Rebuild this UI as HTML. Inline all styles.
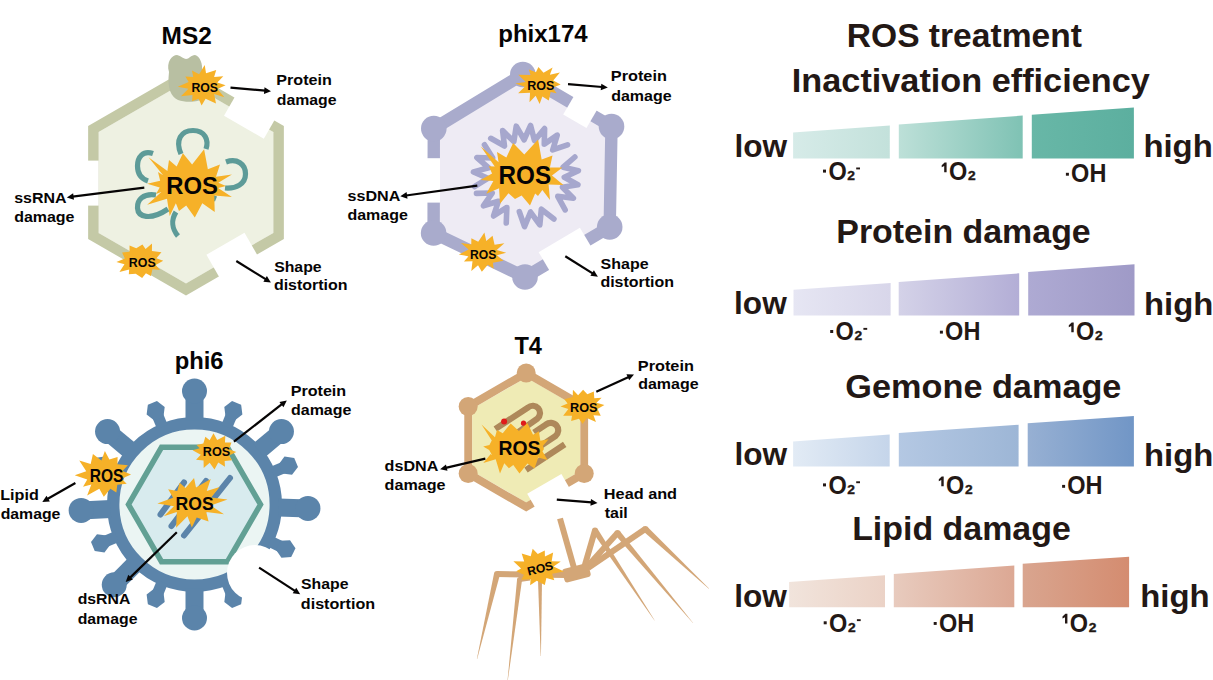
<!DOCTYPE html>
<html><head><meta charset="utf-8"><style>
html,body{margin:0;padding:0;background:#fff;width:1213px;height:680px;overflow:hidden}
svg{display:block}
text{font-family:"Liberation Sans",sans-serif;font-weight:bold}
</style></head><body>
<svg width="1213" height="680" viewBox="0 0 1213 680">
<defs><linearGradient id="g1" x1="0" y1="0" x2="1" y2="0"><stop offset="0" stop-color="#d6ebe8"/><stop offset="1" stop-color="#c3e1db"/></linearGradient>
<linearGradient id="g2" x1="0" y1="0" x2="1" y2="0"><stop offset="0" stop-color="#bde0d8"/><stop offset="1" stop-color="#7fc2b4"/></linearGradient>
<linearGradient id="g3" x1="0" y1="0" x2="1" y2="0"><stop offset="0" stop-color="#68b7a7"/><stop offset="1" stop-color="#5caf9f"/></linearGradient>
<linearGradient id="g4" x1="0" y1="0" x2="1" y2="0"><stop offset="0" stop-color="#e6e6f3"/><stop offset="1" stop-color="#d8d6ea"/></linearGradient>
<linearGradient id="g5" x1="0" y1="0" x2="1" y2="0"><stop offset="0" stop-color="#d4d2e8"/><stop offset="1" stop-color="#b3aed6"/></linearGradient>
<linearGradient id="g6" x1="0" y1="0" x2="1" y2="0"><stop offset="0" stop-color="#aeaad3"/><stop offset="1" stop-color="#9f9ac7"/></linearGradient>
<linearGradient id="g7" x1="0" y1="0" x2="1" y2="0"><stop offset="0" stop-color="#e2ebf5"/><stop offset="1" stop-color="#c5d5ea"/></linearGradient>
<linearGradient id="g8" x1="0" y1="0" x2="1" y2="0"><stop offset="0" stop-color="#b4c8e3"/><stop offset="1" stop-color="#9db6d6"/></linearGradient>
<linearGradient id="g9" x1="0" y1="0" x2="1" y2="0"><stop offset="0" stop-color="#97b0d3"/><stop offset="1" stop-color="#7196c6"/></linearGradient>
<linearGradient id="g10" x1="0" y1="0" x2="1" y2="0"><stop offset="0" stop-color="#f1e4dc"/><stop offset="1" stop-color="#ebd2c6"/></linearGradient>
<linearGradient id="g11" x1="0" y1="0" x2="1" y2="0"><stop offset="0" stop-color="#e8cbbe"/><stop offset="1" stop-color="#dca894"/></linearGradient>
<linearGradient id="g12" x1="0" y1="0" x2="1" y2="0"><stop offset="0" stop-color="#d9a58f"/><stop offset="1" stop-color="#d48c70"/></linearGradient></defs>
<text transform="translate(846.78,46.9) scale(1,1)" font-size="33.6" fill="#231815">ROS treatment</text>
<text transform="translate(791.85,91.7) scale(1.02,1)" font-size="33.6" fill="#231815">Inactivation efficiency</text>
<text transform="translate(836.26,242.8) scale(1.01,1)" font-size="33.6" fill="#231815">Protein damage</text>
<text transform="translate(845.37,397.9) scale(1.02,1)" font-size="33.6" fill="#231815">Gemone damage</text>
<text transform="translate(852.15,540.4) scale(1.01,1)" font-size="33.6" fill="#231815">Lipid damage</text>
<text transform="translate(734.39,156.9)" font-size="31.6" fill="#231815">low</text>
<text transform="translate(1143.4,156.9) scale(1.04,1)" font-size="31.6" fill="#231815">high</text>
<polygon points="793.1,132.6 889.8,125.6 889.8,158.4 793.1,158.4" fill="url(#g1)"/>
<polygon points="898.8,124.6 1022.7,115.6 1022.7,158.4 898.8,158.4" fill="url(#g2)"/>
<polygon points="1031.8,114.8 1133.9,107.4 1133.9,158.4 1031.8,158.4" fill="url(#g3)"/>
<rect x="823" y="169.6" width="3" height="3" fill="#231815"/><text transform="translate(828.41,179.8) scale(0.94,1)" font-size="25" fill="#231815">O</text><text stroke="#231815" stroke-width="0.35" transform="translate(847.33,179.8) scale(1.14,1)" font-size="12.1" fill="#231815">2</text><rect x="856.2" y="167.5" width="3.8" height="1.9" fill="#231815"/>
<path d="M946.6,162.4 L946.6,172.3 L944.2,172.3 L944.2,165.9 L941.7,167.3 L941.7,165.2 L944.6,162.4 Z" fill="#231815"/><text transform="translate(949.01,180.2) scale(0.94,1)" font-size="25" fill="#231815">O</text><text stroke="#231815" stroke-width="0.35" transform="translate(967.93,180.2) scale(1.14,1)" font-size="12.1" fill="#231815">2</text>
<rect x="1065.9" y="172.8" width="3" height="2.9" fill="#231815"/><text transform="translate(1071.11,182.3) scale(0.94,1)" font-size="25" fill="#231815">OH</text>
<text transform="translate(734.09,314.2)" font-size="31.6" fill="#231815">low</text>
<text transform="translate(1144,315.3) scale(1.04,1)" font-size="31.6" fill="#231815">high</text>
<polygon points="793.5,289.7 890.6,283.1 890.6,315.5 793.5,315.5" fill="url(#g4)"/>
<polygon points="898.7,282.1 1019.2,273.3 1019.2,315.5 898.7,315.5" fill="url(#g5)"/>
<polygon points="1028.2,272 1134.5,264.3 1134.5,315.5 1028.2,315.5" fill="url(#g6)"/>
<rect x="830.2" y="330" width="3" height="3" fill="#231815"/><text transform="translate(835.61,340.2) scale(0.94,1)" font-size="25" fill="#231815">O</text><text stroke="#231815" stroke-width="0.35" transform="translate(854.53,340.2) scale(1.14,1)" font-size="12.1" fill="#231815">2</text><rect x="863.4" y="327.9" width="3.8" height="1.9" fill="#231815"/>
<rect x="939.9" y="330.7" width="3" height="2.9" fill="#231815"/><text transform="translate(945.11,340.2) scale(0.94,1)" font-size="25" fill="#231815">OH</text>
<path d="M1073.7,322.4 L1073.7,332.3 L1071.3,332.3 L1071.3,325.9 L1068.8,327.3 L1068.8,325.2 L1071.7,322.4 Z" fill="#231815"/><text transform="translate(1076.11,340.2) scale(0.94,1)" font-size="25" fill="#231815">O</text><text stroke="#231815" stroke-width="0.35" transform="translate(1095.03,340.2) scale(1.14,1)" font-size="12.1" fill="#231815">2</text>
<text transform="translate(734.39,465.3)" font-size="31.6" fill="#231815">low</text>
<text transform="translate(1144,466.4) scale(1.04,1)" font-size="31.6" fill="#231815">high</text>
<polygon points="793.1,441.4 889.7,434.4 889.7,466.5 793.1,466.5" fill="url(#g7)"/>
<polygon points="898.8,432.9 1018.6,424.7 1018.6,466.5 898.8,466.5" fill="url(#g8)"/>
<polygon points="1027.7,423.3 1133.9,415.9 1133.9,466.5 1027.7,466.5" fill="url(#g9)"/>
<rect x="823" y="483.4" width="3" height="3" fill="#231815"/><text transform="translate(828.41,493.6) scale(0.94,1)" font-size="25" fill="#231815">O</text><text stroke="#231815" stroke-width="0.35" transform="translate(847.33,493.6) scale(1.14,1)" font-size="12.1" fill="#231815">2</text><rect x="856.2" y="481.3" width="3.8" height="1.9" fill="#231815"/>
<path d="M943.7,476.4 L943.7,486.3 L941.3,486.3 L941.3,479.9 L938.8,481.3 L938.8,479.2 L941.7,476.4 Z" fill="#231815"/><text transform="translate(946.11,494.2) scale(0.94,1)" font-size="25" fill="#231815">O</text><text stroke="#231815" stroke-width="0.35" transform="translate(965.03,494.2) scale(1.14,1)" font-size="12.1" fill="#231815">2</text>
<rect x="1062.1" y="484.9" width="3" height="2.9" fill="#231815"/><text transform="translate(1067.31,494.4) scale(0.94,1)" font-size="25" fill="#231815">OH</text>
<text transform="translate(734.19,606.6)" font-size="31.6" fill="#231815">low</text>
<text transform="translate(1140.2,607.4) scale(1.04,1)" font-size="31.6" fill="#231815">high</text>
<polygon points="789.1,582 885,575.3 885,607.3 789.1,607.3" fill="url(#g10)"/>
<polygon points="893.8,574 1014.3,565.6 1014.3,607.3 893.8,607.3" fill="url(#g11)"/>
<polygon points="1022.7,563.7 1129.1,556.7 1129.1,607.3 1022.7,607.3" fill="url(#g12)"/>
<rect x="823.7" y="621.3" width="3" height="3" fill="#231815"/><text transform="translate(829.11,631.5) scale(0.94,1)" font-size="25" fill="#231815">O</text><text stroke="#231815" stroke-width="0.35" transform="translate(848.03,631.5) scale(1.14,1)" font-size="12.1" fill="#231815">2</text><rect x="856.9" y="619.2" width="3.8" height="1.9" fill="#231815"/>
<rect x="933.7" y="622" width="3" height="2.9" fill="#231815"/><text transform="translate(938.91,631.5) scale(0.94,1)" font-size="25" fill="#231815">OH</text>
<path d="M1067.4,613.7 L1067.4,623.6 L1065,623.6 L1065,617.2 L1062.5,618.6 L1062.5,616.5 L1065.4,613.7 Z" fill="#231815"/><text transform="translate(1069.81,631.5) scale(0.94,1)" font-size="25" fill="#231815">O</text><text stroke="#231815" stroke-width="0.35" transform="translate(1088.73,631.5) scale(1.14,1)" font-size="12.1" fill="#231815">2</text>
<text transform="translate(161.59,43.9)" font-size="24.4" fill="#060404">MS2</text>
<polygon points="186,81.62 273.36,132.06 273.36,232.94 186,283.38 98.64,232.94 98.64,132.06" fill="#eef1e2"/>
<polygon points="186,75.56 278.61,129.03 278.61,235.97 186,289.44 93.39,235.97 93.39,129.03" fill="none" stroke="#c4c9a6" stroke-width="10.5"/>
<rect x="86" y="160.6" width="12.6" height="45" fill="#fff"/>
<polygon points="237.5,92.3 277.33,115.3 263.83,138.69 224,115.69" fill="#fff"/>
<polygon points="260.01,259.7 221.91,281.7 206.41,254.85 244.51,232.85" fill="#fff"/>
<path d="M169,72 C166,62 172,55 177,55 C181,56 184,59 186,59 C189,59 191,55 195,55 C200,56 203,64 202,72 L204,98 C200,102 186,103 178,100 C171,97 167,88 169,72 Z" fill="#b8bfa2"/>
<polygon points="225.59,85.19 217.48,89.1 224.4,97.17 214.14,94.05 215.99,103.47 205.6,98.77 201.61,105.61 198.58,98.85 192.08,101.34 192.57,94.9 180.93,96.19 188.42,88.81 177.79,86.87 188.69,81.96 185.31,76.6 193.22,77.11 192,70.56 199.14,74.31 204.7,64.97 206.03,73.15 216.22,69.91 214.12,77.05 223.3,76.16 217.32,82.48" fill="#f6b128"/>
<text transform="translate(191.38,91.7) scale(0.94,1)" font-size="13.09" fill="#060404">ROS</text>
<g fill="none" stroke="#5d9b98" stroke-width="5.2">
<path d="M181,154 C175,140 181,130.5 193,130.5 C205,130.5 209,140 206,149"/>
<path d="M153,153.5 C143,150 137.5,157 137.5,166 C137.5,175 142,179 148,181"/>
<path d="M226,162 C237,158 245.5,164 245.5,174 C245.5,184 236,189 225,188"/>
<path d="M156,195 C143,193 137,200 137.5,208 C138,217 150,221 168,209"/>
<path d="M176,212 C171,220 172,229 178,236"/>
<path d="M209,196 L216,199"/>
</g>
<polygon points="147.2,183.7 160.17,180.64 158,172 163.1,175.18 148.5,157.2 167.39,171.04 169,160 176.65,166.38 182.9,153.2 192.1,164.61 204.1,149.3 207.85,169.23 220,164.5 216.02,176.77 231.9,174.4 218.33,182.8 226,186 218.17,188.04 231.9,196.9 214.28,195.56 214.7,212.1 202.31,203.3 194.8,217.4 186.2,205.41 179,211 175.87,203.36 169.7,216.1 167,198.65 147.2,204.8 161.33,192.11 156,194 159.7,187.4" fill="#f6b128"/>
<text transform="translate(166.33,194) scale(0.97,1)" font-size="24.6" fill="#060404">ROS</text>
<polygon points="163.23,260.64 155.68,265.07 160.06,269.88 152.47,269.33 150.89,275.95 145.94,273.16 142.17,277.95 135.72,273.66 128.81,274.37 129.17,269.51 119.42,272.1 124.48,264.21 116.38,261.89 124.86,258.53 122.13,252.43 129.54,251.83 129.54,245.38 136.26,248.15 142.43,244.43 145.55,248.9 152.05,243.53 151.92,250.97 161.44,252.16 156.4,258.23" fill="#f6b128"/>
<text transform="translate(128.78,266.7) scale(0.97,1)" font-size="12.81" fill="#060404">ROS</text>
<text transform="translate(276.34,85.3) scale(1.09,1)" font-size="14.8" fill="#060404">Protein</text><text transform="translate(276.73,104.7) scale(1.07,1)" font-size="14.8" fill="#060404">damage</text>
<line x1="230.5" y1="87.6" x2="265.22" y2="90.69" stroke="#060404" stroke-width="2.2"/><polygon points="271,91.2 263.93,93.88 264.52,87.31" fill="#060404"/>
<text transform="translate(14.22,202.9) scale(1.08,1)" font-size="14.8" fill="#060404">ssRNA</text><text transform="translate(14.13,222.1) scale(1.08,1)" font-size="14.8" fill="#060404">damage</text>
<line x1="144.3" y1="187.7" x2="72.56" y2="196.68" stroke="#060404" stroke-width="2.2"/><polygon points="66.8,197.4 73.14,193.28 73.96,199.83" fill="#060404"/>
<text transform="translate(274.13,272) scale(1.07,1)" font-size="14.8" fill="#060404">Shape</text><text transform="translate(273.93,290) scale(1.08,1)" font-size="14.8" fill="#060404">distortion</text>
<line x1="236.3" y1="261" x2="265.97" y2="279.35" stroke="#060404" stroke-width="2.2"/><polygon points="270.9,282.4 263.38,281.63 266.85,276.02" fill="#060404"/>
<text transform="translate(498.22,41.7)" font-size="24" fill="#060404">phix174</text>
<polygon points="522.8,74.5 611.5,126.5 609.7,227 525,277 433.6,233 433.8,128.6" fill="#eeebf4"/>
<polygon points="522.8,74.5 611.5,126.5 609.7,227 525,277 433.6,233 433.8,128.6" fill="none" stroke="#a9abcc" stroke-width="12.4"/>
<circle cx="522.8" cy="74.5" r="12.8" fill="#a9abcc"/>
<circle cx="611.5" cy="126.5" r="12.8" fill="#a9abcc"/>
<circle cx="609.7" cy="227" r="12.8" fill="#a9abcc"/>
<circle cx="525" cy="277" r="12.8" fill="#a9abcc"/>
<circle cx="433.6" cy="233" r="12.8" fill="#a9abcc"/>
<circle cx="433.8" cy="128.6" r="12.8" fill="#a9abcc"/>
<rect x="425" y="158.2" width="15" height="44.4" fill="#fff"/>
<polygon points="575.31,93.69 598.6,107.34 586.46,128.05 563.17,114.39" fill="#fff"/>
<polygon points="592.39,248.83 551.06,273.23 538.6,252.13 579.94,227.73" fill="#fff"/>
<g fill="none" stroke="#a6a7cd" stroke-width="5.6" stroke-linecap="round" stroke-linejoin="round">
<path d="M490.74,138.32 L504.49,145.97 L502.62,130.56 L513.85,141.58 L516.25,126.18 L524.11,139.74 L530.59,125.49 L534.51,140.61 L544.6,128.56 L544.28,144.1 L557.22,135.16 L552.69,149.96 L567.53,144.79"/>
<path d="M574.86,157.01 L563.16,167.22 L578.41,170.7 L564.28,177.27 L577.9,184.8 L562.43,187.22 L573.37,198.23 L557.75,196.3 L565.16,209.92"/>
<path d="M553.93,219 L541.33,209.26 L539.82,224.93 L530.53,212.04 L524.53,226.68 L519.35,211.75"/>
<path d="M506.26,223.01 L506.85,207.44 L493.55,215.95 L498.45,201.22 L483.36,205.8 L492.18,193.04 L476.48,193.34"/>
<path d="M474.45,186.54 L487.78,178.32 L473.47,171.88 L488.68,167.83 L476.91,157.56 L492.72,158.03 L484.47,144.79"/>
</g>
<polygon points="488.8,166.3 494.75,166.43 480.6,146.3 498.58,162.19 497,152 506.33,157.52 513.1,143.1 524.29,154.56 538.1,139.4 541.66,159.51 552.5,155.6 549.92,167.49 562.5,167.5 551.99,175.55 563.5,185 548.57,184.51 550,200 542.37,190.05 538,196 535.15,193.43 530,205.5 521.59,195.5 515,199 508.47,193.3 500,203.8 499.09,188.23 486.3,193.8 493.36,181.1 480.5,180 492.07,173.6" fill="#f6b128"/>
<text transform="translate(498.5,183.5) scale(0.97,1)" font-size="25.04" fill="#060404">ROS</text>
<polygon points="560.65,84.4 552.66,87.64 556.59,93.22 550.64,91.97 548.78,100.55 542.35,96.58 539.63,104.02 535.66,95.77 529.47,102.26 530.08,92.65 518.12,93.34 524.75,86.64 515.29,83.57 525.75,81.97 518.32,74.85 530.53,74.94 528.82,69.6 535.91,72.31 538.43,66.93 543.53,72.8 552.58,67.6 549.86,74.77 559.91,72.48 553.23,80.43" fill="#f6b128"/>
<text transform="translate(527.27,89.9) scale(0.98,1)" font-size="12.81" fill="#060404">ROS</text>
<polygon points="506.18,252.87 496.91,255.31 503.4,260.86 493,262.72 493.64,268.83 487.85,264.74 481.85,271.85 478.05,265.18 471.32,271.02 472.51,261.31 463.95,261.51 468.6,256.35 458.86,254.4 468.62,249.53 460.93,243.06 471.27,244.41 471.35,238.3 478.21,241.77 484.41,232.54 486.28,241.03 492.55,235.82 494.57,244.63 504.36,243.19 496.7,250.11" fill="#f6b128"/>
<text transform="translate(470.09,259) scale(0.95,1)" font-size="12.81" fill="#060404">ROS</text>
<text transform="translate(610.82,81.1) scale(1.1,1)" font-size="14.8" fill="#060404">Protein</text><text transform="translate(611.23,100.7) scale(1.08,1)" font-size="14.8" fill="#060404">damage</text>
<line x1="568" y1="84.1" x2="602.02" y2="87.01" stroke="#060404" stroke-width="2.2"/><polygon points="607.8,87.5 600.74,90.21 601.31,83.63" fill="#060404"/>
<text transform="translate(347.52,200.9) scale(1.09,1)" font-size="14.8" fill="#060404">ssDNA</text><text transform="translate(347.43,219.6) scale(1.08,1)" font-size="14.8" fill="#060404">damage</text>
<line x1="477.3" y1="185.6" x2="406.04" y2="195.5" stroke="#060404" stroke-width="2.2"/><polygon points="400.3,196.3 406.58,192.1 407.49,198.63" fill="#060404"/>
<text transform="translate(600.62,268.6) scale(1.08,1)" font-size="14.8" fill="#060404">Shape</text><text transform="translate(600.43,286.8) scale(1.08,1)" font-size="14.8" fill="#060404">distortion</text>
<line x1="565.3" y1="256.2" x2="592.99" y2="273.61" stroke="#060404" stroke-width="2.2"/><polygon points="597.9,276.7 590.39,275.87 593.9,270.29" fill="#060404"/>
<text transform="translate(174.63,368.7)" font-size="23.8" fill="#060404">phi6</text>
<circle cx="194.5" cy="504.5" r="81.3" fill="#ebf5f3" stroke="#5b84aa" stroke-width="12.4"/>
<polygon points="227.5,447.34 260.5,504.5 227.5,561.66 161.5,561.66 128.5,504.5 161.5,447.34" fill="#d8ebee" stroke="#62a094" stroke-width="5.5"/>
<line x1="194.5" y1="420.5" x2="194.5" y2="391" stroke="#5b84aa" stroke-width="18"/>
<circle cx="194.5" cy="391" r="12.5" fill="#5b84aa"/>
<line x1="258.85" y1="450.51" x2="281.45" y2="431.54" stroke="#5b84aa" stroke-width="18"/>
<circle cx="281.45" cy="431.54" r="12.5" fill="#5b84aa"/>
<line x1="278.45" y1="507.43" x2="307.93" y2="508.46" stroke="#5b84aa" stroke-width="18"/>
<circle cx="307.93" cy="508.46" r="12.5" fill="#5b84aa"/>
<line x1="194.5" y1="588.5" x2="194.5" y2="618" stroke="#5b84aa" stroke-width="18"/>
<circle cx="194.5" cy="618" r="12.5" fill="#5b84aa"/>
<line x1="135.1" y1="563.9" x2="114.24" y2="584.76" stroke="#5b84aa" stroke-width="18"/>
<circle cx="114.24" cy="584.76" r="12.5" fill="#5b84aa"/>
<line x1="110.62" y1="508.9" x2="81.16" y2="510.44" stroke="#5b84aa" stroke-width="18"/>
<circle cx="81.16" cy="510.44" r="12.5" fill="#5b84aa"/>
<line x1="130.15" y1="450.51" x2="107.55" y2="431.54" stroke="#5b84aa" stroke-width="18"/>
<circle cx="107.55" cy="431.54" r="12.5" fill="#5b84aa"/>
<line x1="226.65" y1="426.89" x2="233.34" y2="410.73" stroke="#5b84aa" stroke-width="11.5"/>
<polygon points="224.29,406.98 232.06,401.01 241.12,404.76 242.4,414.48 234.62,420.44 225.57,416.69" fill="#5b84aa"/>
<line x1="272.11" y1="472.35" x2="288.27" y2="465.66" stroke="#5b84aa" stroke-width="11.5"/>
<polygon points="284.52,456.6 294.24,457.88 297.99,466.94 292.02,474.71 282.31,473.43 278.56,464.38" fill="#5b84aa"/>
<line x1="270" y1="541.32" x2="285.73" y2="548.99" stroke="#5b84aa" stroke-width="11.5"/>
<polygon points="290.02,540.19 295.5,548.31 291.21,557.12 281.43,557.8 275.95,549.68 280.25,540.87" fill="#5b84aa"/>
<line x1="226.65" y1="582.11" x2="233.34" y2="598.27" stroke="#5b84aa" stroke-width="11.5"/>
<polygon points="242.4,594.52 241.12,604.24 232.06,607.99 224.29,602.02 225.57,592.31 234.62,588.56" fill="#5b84aa"/>
<line x1="162.35" y1="582.11" x2="155.66" y2="598.27" stroke="#5b84aa" stroke-width="11.5"/>
<polygon points="164.71,602.02 156.94,607.99 147.88,604.24 146.6,594.52 154.38,588.56 163.43,592.31" fill="#5b84aa"/>
<line x1="116.89" y1="536.65" x2="100.73" y2="543.34" stroke="#5b84aa" stroke-width="11.5"/>
<polygon points="104.48,552.4 94.76,551.12 91.01,542.06 96.98,534.29 106.69,535.57 110.44,544.62" fill="#5b84aa"/>
<line x1="116.89" y1="472.35" x2="100.73" y2="465.66" stroke="#5b84aa" stroke-width="11.5"/>
<polygon points="96.98,474.71 91.01,466.94 94.76,457.88 104.48,456.6 110.44,464.38 106.69,473.43" fill="#5b84aa"/>
<line x1="162.35" y1="426.89" x2="155.66" y2="410.73" stroke="#5b84aa" stroke-width="11.5"/>
<polygon points="146.6,414.48 147.88,404.76 156.94,401.01 164.71,406.98 163.43,416.69 154.38,420.44" fill="#5b84aa"/>
<circle cx="255" cy="573" r="28" fill="#fff"/>
<g stroke="#5b84aa" stroke-width="6" stroke-linecap="round">
<line x1="160.5" y1="514.5" x2="184" y2="482.5"/>
<line x1="171.5" y1="526" x2="206" y2="481"/>
<line x1="184" y1="535.5" x2="230" y2="478"/>
</g>
<polygon points="227.55,499.56 210.8,505.62 224,514.31 206.22,512.06 208.57,521.42 196.73,517.55 191.79,527.42 187.44,516.15 176.1,527.64 176.82,512.09 163.78,516.34 173.96,506.14 157.32,503.41 173.1,497.81 168.13,489.13 177.23,491.07 179.65,482.72 185.46,487.88 194.04,478.09 196.01,487.42 210.71,479 206.73,491.08 219.64,487.06 211.12,497.53" fill="#f6b128"/>
<text transform="translate(175.54,509.6) scale(0.98,1)" font-size="17.99" fill="#060404">ROS</text>
<polygon points="236.3,451.92 229.09,455.49 231.99,460.16 224.66,460.93 224.97,466.85 218.26,462.54 214.48,469.61 209.68,462.66 203.68,467.99 203.57,460.44 196.05,459.8 200.77,454.79 192.59,450.36 199.76,448.14 196.56,444.92 203.33,443.44 205.37,436.67 209.68,440.33 213.51,433.14 217.16,440.11 225.34,435.71 224.94,442.54 231.43,442.44 229.07,449.17" fill="#f6b128"/>
<text transform="translate(202.76,456.4) scale(1.01,1)" font-size="12.52" fill="#060404">ROS</text>
<polygon points="131.05,474.59 121.59,478.71 126.72,483.8 117.29,484.77 116.36,492.48 110.4,488.8 103.83,496.68 99.32,488.78 87.12,495.39 91.35,484.62 83.03,486.87 87.27,479.54 74.68,475.18 86.26,471.29 79.28,460.51 90.66,464.1 92.92,454.12 101.4,460.56 104.88,451.03 109.37,459.6 117.59,457.12 117.43,464.17 127.91,465.23 122.53,471.01" fill="#f6b128"/>
<text transform="translate(89.67,481.9) scale(0.88,1)" font-size="17.7" fill="#060404">ROS</text>
<text transform="translate(290.64,396) scale(1.09,1)" font-size="14.8" fill="#060404">Protein</text><text transform="translate(291.03,414.7) scale(1.08,1)" font-size="14.8" fill="#060404">damage</text>
<line x1="233.9" y1="441.7" x2="282.23" y2="403.97" stroke="#060404" stroke-width="2.2"/><polygon points="286.8,400.4 283.47,407.19 279.41,401.98" fill="#060404"/>
<text transform="translate(0.24,499.5) scale(1.09,1)" font-size="14.8" fill="#060404">Lipid</text><text transform="translate(0.63,519.4) scale(1.07,1)" font-size="14.8" fill="#060404">damage</text>
<line x1="75.4" y1="483" x2="47.34" y2="499.02" stroke="#060404" stroke-width="2.2"/><polygon points="42.3,501.9 46.57,495.66 49.84,501.39" fill="#060404"/>
<text transform="translate(77.63,604.1) scale(1.07,1)" font-size="14.8" fill="#060404">dsRNA</text><text transform="translate(77.64,623.5) scale(1.07,1)" font-size="14.8" fill="#060404">damage</text>
<line x1="176.8" y1="532.2" x2="129.86" y2="577.86" stroke="#060404" stroke-width="2.2"/><polygon points="125.7,581.9 128.27,574.79 132.88,579.52" fill="#060404"/>
<text transform="translate(301.02,588.9) scale(1.07,1)" font-size="14.8" fill="#060404">Shape</text><text transform="translate(300.83,608.8) scale(1.09,1)" font-size="14.8" fill="#060404">distortion</text>
<line x1="259.1" y1="567.7" x2="295.33" y2="591.06" stroke="#060404" stroke-width="2.2"/><polygon points="300.2,594.2 292.7,593.29 296.27,587.74" fill="#060404"/>
<text transform="translate(514.42,353.8) scale(1,1)" font-size="23.6" fill="#060404">T4</text>
<polygon points="526.2,377.62 580.22,408.81 580.22,471.19 526.2,502.38 472.18,471.19 472.18,408.81" fill="#efebb5"/>
<polygon points="526.2,373 584.22,406.5 584.22,473.5 526.2,507 468.18,473.5 468.18,406.5" fill="none" stroke="#d3a677" stroke-width="7.8"/>
<circle cx="526.2" cy="373" r="9.5" fill="#d3a677"/>
<circle cx="584.22" cy="406.5" r="9.5" fill="#d3a677"/>
<circle cx="584.22" cy="473.5" r="9.5" fill="#d3a677"/>
<circle cx="468.18" cy="473.5" r="9.5" fill="#d3a677"/>
<circle cx="468.18" cy="406.5" r="9.5" fill="#d3a677"/>
<polygon points="571.9,492.16 537.7,511.91 527.2,493.72 561.4,473.97" fill="#fff"/>
<path d="M495.3,429 L528,407.5 A6.2,6.2 0 0 1 537.5,418.5 L517,433 M534,432.5 L546,424.5 A6.4,6.4 0 0 1 555.5,436 L530,453 M564.7,444.4 L526,470" fill="none" stroke="#ae885a" stroke-width="6.2" stroke-linecap="butt"/>
<circle cx="504.1" cy="421.5" r="3" fill="#e01b1b"/>
<circle cx="523.5" cy="423.2" r="2.6" fill="#e01b1b"/>
<polygon points="483.2,446.5 489.45,444.89 492,440 491.79,440.47 481.5,424.6 494.96,437.35 497,430 502.75,433.19 510.7,423.5 518.89,431.1 527.4,423 533.04,434.81 538.9,431.2 540.33,440.63 548.6,439.2 542.82,446.07 544,449 542.46,451.37 547.5,460 538.3,457.59 534.5,468.4 527.41,463.41 519.5,473.5 513.3,464.92 508.9,468.3 504.29,463.32 500,473.5 495.71,459.21 483.3,463 490.7,453.94 492,455 489.19,450.02" fill="#f6b128"/>
<text transform="translate(498.42,455.4) scale(0.99,1)" font-size="19.57" fill="#060404">ROS</text>
<polygon points="604.39,405.02 597.51,408.93 600.8,415.69 593.46,415.13 595.97,422.02 586.84,417.88 582.62,424.1 578.98,418.84 571.15,420.94 572.03,415.78 563.14,415.8 568.35,409.07 560.53,406.48 567.6,403.44 564.36,399.26 572.69,397.08 572.92,389.81 578.1,395.3 583.11,389.63 587.32,394.21 593.8,391.56 594.3,398.3 601.59,397.67 596.45,402.75" fill="#f6b128"/>
<text transform="translate(570.06,411.9) scale(0.99,1)" font-size="12.81" fill="#060404">ROS</text>
<g stroke="#d3a677" stroke-linecap="butt" fill="none">
<line x1="560" y1="518.5" x2="574" y2="568" stroke-width="6"/>
</g>
<polygon points="566.04,572 497.04,571 496.96,577 565.96,578" fill="#d3a677"/><circle cx="497" cy="574" r="3" fill="#d3a677"/><polygon points="494.08,573.31 476.85,658.97 477.15,659.03 499.92,574.69" fill="#d3a677"/>
<polygon points="529.67,575.52 519.27,576.92 519.93,581.88 530.33,580.48" fill="#d3a677"/><circle cx="519.6" cy="579.4" r="2.5" fill="#d3a677"/><polygon points="517.12,579.11 507.55,679.98 507.85,680.02 522.08,579.69" fill="#d3a677"/>
<polygon points="538,580.02 540.65,656 540.95,656 542,579.98" fill="#d3a677"/>
<polygon points="586.88,568.84 597.88,531.24 592.12,529.56 581.12,567.16" fill="#d3a677"/><circle cx="595" cy="530.4" r="3" fill="#d3a677"/><polygon points="592.5,532.06 654.47,620.58 654.73,620.42 597.5,528.74" fill="#d3a677"/>
<polygon points="588.23,570.01 619.73,535.01 615.27,530.99 583.77,565.99" fill="#d3a677"/><circle cx="617.5" cy="533" r="3" fill="#d3a677"/><polygon points="615.2,534.93 692.89,623.1 693.11,622.9 619.8,531.07" fill="#d3a677"/>
<polygon points="589.69,570.48 646.99,531.48 643.61,526.52 586.31,565.52" fill="#d3a677"/><circle cx="645.3" cy="529" r="3" fill="#d3a677"/><polygon points="643.25,531.19 708.8,588.81 709,588.59 647.35,526.81" fill="#d3a677"/>
<rect x="563" y="566" width="27" height="14" rx="3" fill="#d3a677" transform="rotate(-15 576 573)"/>
<polygon points="560.76,561.6 553.52,566.52 563.98,571.52 552.04,573.72 554.3,580.24 546.39,577.89 544.8,584.96 536.81,580.7 530.13,585.3 530.61,579.18 521.38,579.68 523.97,574.74 516.19,571.23 521.07,568.48 513.39,561.29 524.21,561.56 521.68,553.46 530.7,556.27 532.69,548.8 537.78,554.08 544.77,550.57 544.93,556.38 553.13,552.39 551.65,561.2" fill="#f6b128"/>
<text transform="translate(529.3,575.5) rotate(-14.3) translate(-0.8,0)" font-size="12.1" fill="#060404">ROS</text>
<text transform="translate(637.83,370.5) scale(1.1,1)" font-size="14.8" fill="#060404">Protein</text><text transform="translate(638.23,389.4) scale(1.08,1)" font-size="14.8" fill="#060404">damage</text>
<line x1="596.3" y1="391.7" x2="628.72" y2="376.91" stroke="#060404" stroke-width="2.2"/><polygon points="634,374.5 629.18,380.32 626.44,374.32" fill="#060404"/>
<text transform="translate(384.62,471.2) scale(1.09,1)" font-size="14.8" fill="#060404">dsDNA</text><text transform="translate(384.62,489.8) scale(1.09,1)" font-size="14.8" fill="#060404">damage</text>
<line x1="485.3" y1="458.6" x2="445.75" y2="467.88" stroke="#060404" stroke-width="2.2"/><polygon points="440.1,469.2 445.97,464.43 447.47,470.86" fill="#060404"/>
<text transform="translate(603.83,498.5) scale(1.1,1)" font-size="14.8" fill="#060404">Head and</text><text transform="translate(604.71,517.5) scale(1.08,1)" font-size="14.8" fill="#060404">tail</text>
<line x1="556.8" y1="499.7" x2="591.72" y2="502.45" stroke="#060404" stroke-width="2.2"/><polygon points="597.5,502.9 590.46,505.66 590.98,499.08" fill="#060404"/>
</svg>
</body></html>
